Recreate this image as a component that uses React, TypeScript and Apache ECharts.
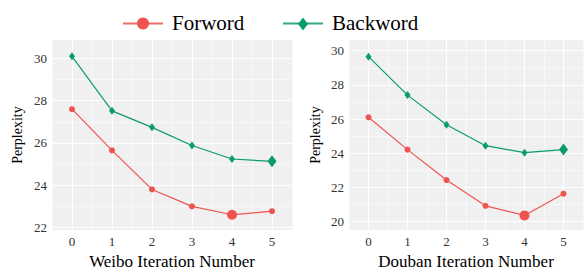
import React, { useEffect, useRef } from 'react';
import * as echarts from 'echarts';

const iterations = [0, 1, 2, 3, 4, 5];
const weiboForward = [27.6, 25.65, 23.8, 23.0, 22.6, 22.77];
const weiboBackward = [30.1, 27.52, 26.74, 25.88, 25.24, 25.13];
const doubanForward = [26.1, 24.21, 22.43, 20.92, 20.36, 21.63];
const doubanBackward = [29.65, 27.4, 25.67, 24.44, 24.03, 24.21];
const highlightForward = 4;
const highlightBackward = 5;
const xTickLabels = [0, 1, 2, 3, 4, 5];
const weiboYTicks = [22, 24, 26, 28, 30];
const doubanYTicks = [20, 22, 24, 26, 28, 30];
const seriesNames = ['Forword', 'Backword'];
const axisTitles = ['Weibo Iteration Number', 'Douban Iteration Number'];
const yTitle = 'Perplexity';

const RED = '#EF5350';
const GREEN = '#0B9B70';
const PANEL = '#F0F0F0';
const MAJOR = '#FFFFFF';
const MINOR = '#F8F8F8';
const FONT = '"Liberation Serif", "Times New Roman", serif';

function yColors(len: number, majorIdx: number, minorIdx: number) {
  const arr: string[] = [];
  for (let i = 0; i < len; i++) {
    arr.push(i === majorIdx ? MAJOR : i === minorIdx ? MINOR : 'rgba(0,0,0,0)');
  }
  return arr;
}

function hasTick(ticks: number[], v: number) {
  return ticks.some((t) => Math.abs(t - v) < 1e-6);
}

export default function App() {
  const ref = useRef<HTMLDivElement>(null);
  useEffect(() => {
    document.body.style.margin = '0';
    const chart = echarts.init(ref.current!, undefined, { renderer: 'svg' });

    const xAxisBase = (gi: number) => ({
      type: 'value',
      gridIndex: gi,
      min: -0.5,
      max: 5.5,
      interval: 0.5,
      name: axisTitles[gi],
      nameLocation: 'middle',
      nameGap: 22,
      nameTextStyle: { fontFamily: FONT, fontSize: 17, color: '#000' },
      axisLine: { show: false },
      axisTick: { show: false },
      axisLabel: {
        fontFamily: FONT,
        fontSize: 13,
        color: '#333',
        margin: 5,
        showMinLabel: true,
        showMaxLabel: true,
        formatter: (v: number) => (hasTick(xTickLabels, v) ? String(Math.round(v)) : ''),
      },
      splitLine: { show: true, lineStyle: { color: [MINOR, MAJOR], width: 1.1 } },
    });

    const yAxisBase = (gi: number, min: number, max: number, ticks: number[], colors: string[], gap: number) => ({
      type: 'value',
      gridIndex: gi,
      min,
      max,
      interval: 0.125,
      name: yTitle,
      nameLocation: 'middle',
      nameGap: gap,
      nameTextStyle: { fontFamily: FONT, fontSize: 14, color: '#000' },
      axisLine: { show: false },
      axisTick: { show: false },
      axisLabel: {
        fontFamily: FONT,
        fontSize: 13,
        color: '#333',
        margin: 5,
        formatter: (v: number) => (hasTick(ticks, v) ? String(Math.round(v)) : ''),
      },
      splitLine: { show: true, lineStyle: { color: colors, width: 1.1 } },
    });

    const mkData = (vals: number[], hi: number, small: any, big: any) =>
      vals.map((v, i) => ({ value: [iterations[i], v], symbolSize: i === hi ? big : small }));

    const mkSeries = (gi: number, name: string, vals: number[], color: string, symbol: string, hi: number, small: any, big: any) => ({
      type: 'line',
      name,
      xAxisIndex: gi,
      yAxisIndex: gi,
      data: mkData(vals, hi, small, big),
      symbol,
      showAllSymbol: true,
      lineStyle: { color, width: 1.2 },
      itemStyle: { color },
      z: name === seriesNames[0] ? 3 : 2,
    });

    chart.setOption({
      animation: false,
      grid: [
        { left: 52, top: 40, width: 240, height: 198, show: true, backgroundColor: PANEL, borderWidth: 0 },
        { left: 349, top: 40, width: 239, height: 198, show: true, backgroundColor: PANEL, borderWidth: 0 },
      ],
      xAxis: [xAxisBase(0), xAxisBase(1)],
      yAxis: [
        yAxisBase(0, 21.875, 30.875, weiboYTicks, yColors(16, 1, 9), 28),
        yAxisBase(1, 19.5, 30.625, doubanYTicks, yColors(16, 4, 12), 27),
      ],
      series: [
        mkSeries(0, seriesNames[0], weiboForward, RED, 'circle', highlightForward, 6, 10),
        mkSeries(0, seriesNames[1], weiboBackward, GREEN, 'diamond', highlightBackward, [6, 8], [9, 12]),
        mkSeries(1, seriesNames[0], doubanForward, RED, 'circle', highlightForward, 6, 10),
        mkSeries(1, seriesNames[1], doubanBackward, GREEN, 'diamond', highlightBackward, [6, 8], [9, 12]),
      ],
      graphic: [
        { type: 'line', shape: { x1: 123, y1: 23.5, x2: 163, y2: 23.5 }, style: { stroke: RED, lineWidth: 2, opacity: 0.85 } },
        { type: 'circle', shape: { cx: 143, cy: 23.5, r: 6 }, style: { fill: RED } },
        { type: 'text', x: 172, y: 22.5, style: { text: seriesNames[0], font: `21px ${FONT}`, fill: '#000', verticalAlign: 'middle' } },
        { type: 'line', shape: { x1: 283, y1: 23.5, x2: 323, y2: 23.5 }, style: { stroke: GREEN, lineWidth: 2, opacity: 0.85 } },
        { type: 'polygon', shape: { points: [[303, 17.5], [308, 24], [303, 30.5], [298, 24]] }, style: { fill: GREEN } },
        { type: 'text', x: 332, y: 22.5, style: { text: seriesNames[1], font: `21px ${FONT}`, fill: '#000', verticalAlign: 'middle' } },
      ],
    });
    return () => chart.dispose();
  }, []);
  return <div ref={ref} style={{ width: 586, height: 275 }} />;
}
